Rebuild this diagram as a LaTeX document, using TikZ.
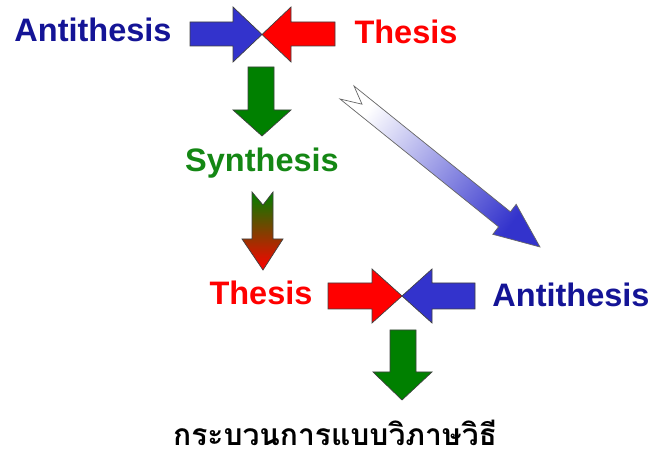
\documentclass[tikz,border=0pt]{standalone}
\usepackage{fontspec}
\setmainfont{Liberation Sans}
\newfontfamily\thaifont[Script=Thai]{Loma}
\definecolor{arrowblue}{RGB}{51,51,204}
\definecolor{textblue}{RGB}{20,20,150}
\definecolor{arrowgreen}{RGB}{0,128,0}
\definecolor{textgreen}{RGB}{20,135,20}
\tikzset{
  blockarrow/.style={draw=black!75, line width=0.7pt, line join=miter},
  word/.style={font=\fontsize{32.5}{32.5}\selectfont\bfseries, anchor=base, inner sep=0pt}
}
\begin{document}
\begin{tikzpicture}[x=1pt, y=-1pt]
  \useasboundingbox (0,0) rectangle (654,454);
  % top pair meeting in the middle
  \draw[blockarrow, fill=arrowblue] (190,22) -- (233,22) -- (233,7) -- (262,34.5) -- (233,62) -- (233,46) -- (190,46) -- cycle;
  \draw[blockarrow, fill=red] (335,22) -- (291,22) -- (291,7) -- (262,34.5) -- (291,62) -- (291,46) -- (335,46) -- cycle;
  \node[word, text=textblue] (anti1) at (93,42) {Antithesis};
  \node[word, text=red] (thesis1) at (406,44) {Thesis};
  % down to synthesis
  \draw[blockarrow, fill=arrowgreen] (248,67) -- (274,67) -- (274,110) -- (291,110) -- (262,136) -- (233,110) -- (248,110) -- cycle;
  \node[word, text=textgreen] (synth) at (262,172) {Synthesis};
  % synthesis becomes the new thesis
  \draw[blockarrow, top color=arrowgreen, bottom color=red] (252,192) -- (263,205) -- (273,192) -- (273,239) -- (283,239) -- (263,270) -- (242,239) -- (252,239) -- cycle;
  % old thesis turns into the new antithesis
  \draw[blockarrow, draw=black!60, top color=white, bottom color=arrowblue, shading angle=52]
    (354,86) -- (510.4,211.8) -- (516.2,204.3) -- (540,247) -- (492.8,234.3) -- (498.6,226.8) -- (340,99) -- (362,104.2) -- cycle;
  % bottom pair
  \draw[blockarrow, fill=red] (328,283) -- (372,283) -- (372,269) -- (402,296) -- (372,323) -- (372,309) -- (328,309) -- cycle;
  \draw[blockarrow, fill=arrowblue] (475,283) -- (432,283) -- (432,269) -- (402,296) -- (432,323) -- (432,309) -- (475,309) -- cycle;
  \node[word, text=red] (thesis2) at (261,305) {Thesis};
  \node[word, text=textblue] (anti2) at (571,307) {Antithesis};
  \draw[blockarrow, fill=arrowgreen] (390,330) -- (416,330) -- (416,372) -- (432,372) -- (402,400) -- (373,372) -- (390,372) -- cycle;
  \node[anchor=base, inner sep=0pt, text depth=0pt, font=\thaifont\fontsize{30}{30}\selectfont\bfseries] (caption) at (335,446) {กระบวนการแบบวิภาษวิธี};
\end{tikzpicture}
\end{document}
